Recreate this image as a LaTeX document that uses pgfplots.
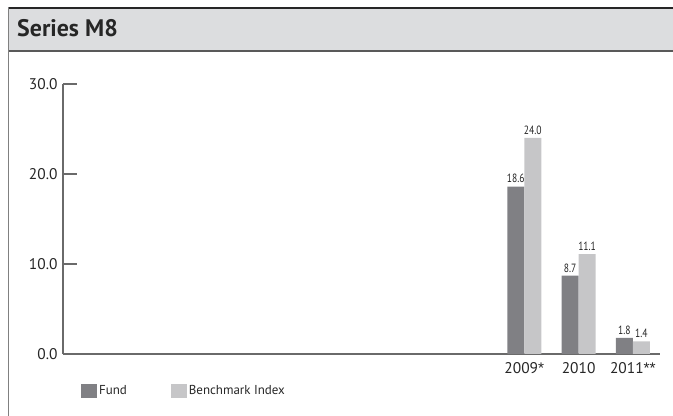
\documentclass[border=0pt]{standalone}
\usepackage{pgfplots}
\pgfplotsset{compat=1.18}
\usepackage{fontspec}
\setmainfont{PT Sans}
\newfontfamily\condfont[FakeStretch=0.8]{PT Sans}
\newfontfamily\astfont{Liberation Sans}
\definecolor{fundgray}{HTML}{808084}
\definecolor{benchgray}{HTML}{C6C6C8}
\definecolor{bandgray}{HTML}{DCDDDF}
\definecolor{axisgray}{HTML}{6A6A6A}
\begin{document}
\begin{tikzpicture}
\useasboundingbox (0bp,0bp) rectangle (673bp,416bp);
% header band and frame
\fill[bandgray] (8.5bp,365bp) rectangle (673bp,408bp);
\draw[line width=2bp, black!85] (8.5bp,408bp) -- (673bp,408bp);
\draw[line width=1.5bp, black!65] (8.5bp,365bp) -- (673bp,365bp);
\draw[line width=1.2bp, black!50] (8.5bp,0bp) -- (8.5bp,409bp);
\node[anchor=base west, inner sep=0pt, text=black!85,
  font=\bfseries\fontsize{24}{28}\selectfont] at (17bp,379bp) {Series M8};

\begin{axis}[
  at={(63bp,62bp)}, anchor=south west,
  scale only axis, width=597bp, height=270bp,
  ybar, bar width=17bp, ybar=0pt,
  xmin=-0.5, xmax=10.5, ymin=0, ymax=30,
  axis x line=bottom, axis y line=left,
  axis line style={axisgray, line width=1.3bp, -},
  xtick={8,9,10},
  xticklabels={2009{\astfont*}, 2010, 2011{\astfont**}},
  x tick style={draw=none},
  ytick={0,10,20,30},
  y tick style={axisgray, line width=1.3bp},
  tick align=inside, major tick length=14bp,
  tick label style={font=\fontsize{15.5}{18}\selectfont, text=black!85},
  xticklabel style={yshift=-5bp},
  yticklabel style={xshift=-2bp, /pgf/number format/fixed, /pgf/number format/fixed zerofill,
    /pgf/number format/precision=1, /pgf/number format/assume math mode=true},
  nodes near coords,
  nodes near coords style={font=\condfont\fontsize{12}{14}\selectfont, text=black!85,
    /pgf/number format/fixed, /pgf/number format/fixed zerofill,
    /pgf/number format/precision=1, /pgf/number format/assume math mode=true},
  legend columns=2,
  legend style={at={(0.0251,-0.137)}, anchor=west, draw=none, fill=none,
    font=\fontsize{13}{15}\selectfont, text=black!85,
    /tikz/every even column/.append style={column sep=42bp}},
  legend image code/.code={\path[#1,draw=none] (0bp,-7bp) rectangle (16bp,7bp);},
]
\addplot[fill=fundgray, draw=none] coordinates {(8,18.6) (9,8.7) (10,1.8)};
\addplot[fill=benchgray, draw=none] coordinates {(8,24.0) (9,11.1) (10,1.4)};
\legend{Fund, Benchmark Index}
\end{axis}
\end{tikzpicture}
\end{document}
